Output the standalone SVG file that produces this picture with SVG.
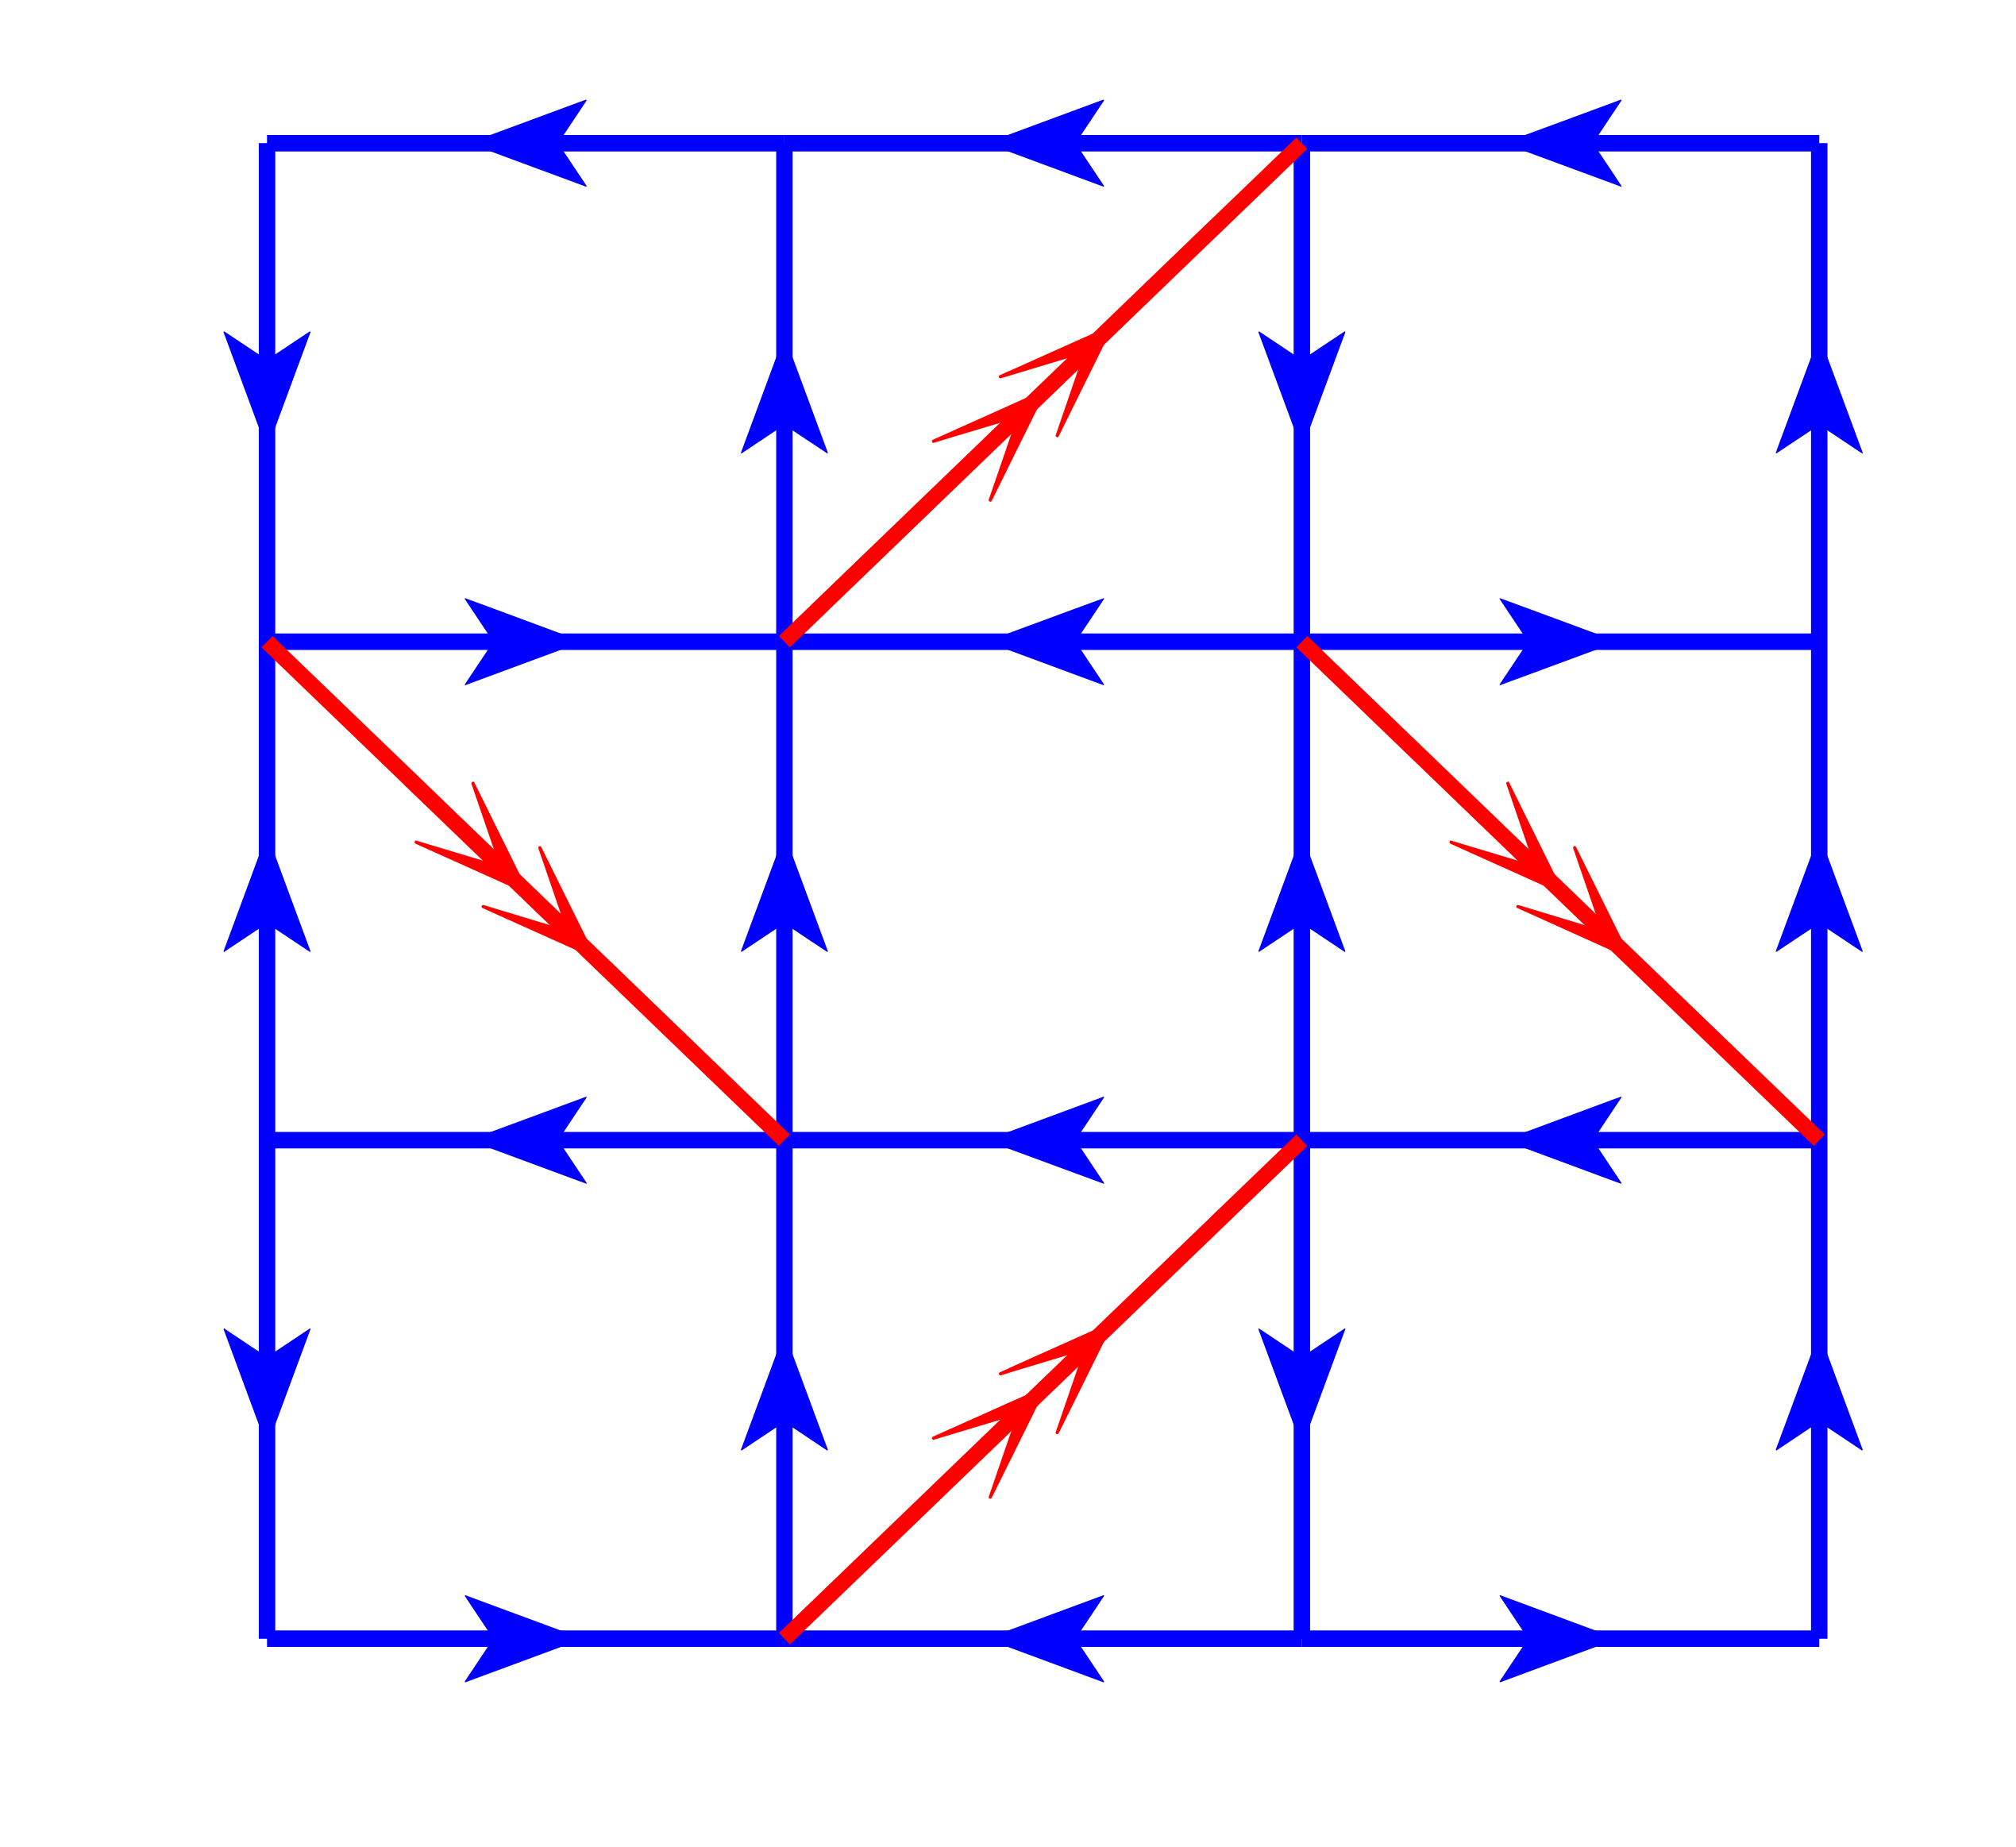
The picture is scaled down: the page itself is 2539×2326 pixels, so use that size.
<svg xmlns="http://www.w3.org/2000/svg" xmlns:xlink="http://www.w3.org/1999/xlink" width="2539" height="2326" viewBox="0 0 2539 2326">
<style>
.e{stroke:#0000ff;stroke-width:20.7;fill:none;stroke-linecap:butt}
.r{stroke:#ff0000;stroke-width:20;fill:none;stroke-linecap:butt}
</style>
<defs>
<path id="ba" d="M0,0 L-146,-54 L-110,0 L-146,54 Z" fill="#0000ff" stroke="#0000ff" stroke-width="1.5" stroke-linejoin="round"/>
<path id="ra" d="M0,0 L-143.5,-51.5 L-43,0 L-143.5,51.5 Z" fill="#ff0000" stroke="#ff0000" stroke-width="4" stroke-linejoin="round"/>
</defs>
<rect width="2539" height="2326" fill="#ffffff"/>
<g id="connectors">
<g id="lattice-edges">
<path class="e" d="M336.3,180.3H987.9"/><path class="e" d="M987.9,180.3H1639.6"/><path class="e" d="M1639.6,180.3H2291.2"/>
<path class="e" d="M336.3,808.1H987.9"/><path class="e" d="M987.9,808.1H1639.6"/><path class="e" d="M1639.6,808.1H2291.2"/>
<path class="e" d="M336.3,1435.9H987.9"/><path class="e" d="M987.9,1435.9H1639.6"/><path class="e" d="M1639.6,1435.9H2291.2"/>
<path class="e" d="M336.3,2063.7H987.9"/><path class="e" d="M987.9,2063.7H1639.6"/><path class="e" d="M1639.6,2063.7H2291.2"/>
<path class="e" d="M336.3,180.3V808.1"/><path class="e" d="M336.3,808.1V1435.9"/><path class="e" d="M336.3,1435.9V2063.7"/>
<path class="e" d="M987.9,180.3V808.1"/><path class="e" d="M987.9,808.1V1435.9"/><path class="e" d="M987.9,1435.9V2063.7"/>
<path class="e" d="M1639.6,180.3V808.1"/><path class="e" d="M1639.6,808.1V1435.9"/><path class="e" d="M1639.6,1435.9V2063.7"/>
<path class="e" d="M2291.2,180.3V808.1"/><path class="e" d="M2291.2,808.1V1435.9"/><path class="e" d="M2291.2,1435.9V2063.7"/>
</g>
<g id="lattice-arrows">
<use xlink:href="#ba" href="#ba" transform="translate(592.1,180.3) rotate(180)"/>
<use xlink:href="#ba" href="#ba" transform="translate(1243.75,180.3) rotate(180)"/>
<use xlink:href="#ba" href="#ba" transform="translate(1895.4,180.3) rotate(180)"/>
<use xlink:href="#ba" href="#ba" transform="translate(732.1,808.1)"/>
<use xlink:href="#ba" href="#ba" transform="translate(1243.75,808.1) rotate(180)"/>
<use xlink:href="#ba" href="#ba" transform="translate(2035.4,808.1)"/>
<use xlink:href="#ba" href="#ba" transform="translate(592.1,1435.9) rotate(180)"/>
<use xlink:href="#ba" href="#ba" transform="translate(1243.75,1435.9) rotate(180)"/>
<use xlink:href="#ba" href="#ba" transform="translate(1895.4,1435.9) rotate(180)"/>
<use xlink:href="#ba" href="#ba" transform="translate(732.1,2063.7)"/>
<use xlink:href="#ba" href="#ba" transform="translate(1243.75,2063.7) rotate(180)"/>
<use xlink:href="#ba" href="#ba" transform="translate(2035.4,2063.7)"/>
<use xlink:href="#ba" href="#ba" transform="translate(336.3,564.2) rotate(90)"/>
<use xlink:href="#ba" href="#ba" transform="translate(336.3,1052.0) rotate(-90)"/>
<use xlink:href="#ba" href="#ba" transform="translate(336.3,1819.8) rotate(90)"/>
<use xlink:href="#ba" href="#ba" transform="translate(987.9,424.2) rotate(-90)"/>
<use xlink:href="#ba" href="#ba" transform="translate(987.9,1052.0) rotate(-90)"/>
<use xlink:href="#ba" href="#ba" transform="translate(987.9,1679.8) rotate(-90)"/>
<use xlink:href="#ba" href="#ba" transform="translate(1639.6,564.2) rotate(90)"/>
<use xlink:href="#ba" href="#ba" transform="translate(1639.6,1052.0) rotate(-90)"/>
<use xlink:href="#ba" href="#ba" transform="translate(1639.6,1819.8) rotate(90)"/>
<use xlink:href="#ba" href="#ba" transform="translate(2291.2,424.2) rotate(-90)"/>
<use xlink:href="#ba" href="#ba" transform="translate(2291.2,1052.0) rotate(-90)"/>
<use xlink:href="#ba" href="#ba" transform="translate(2291.2,1679.8) rotate(-90)"/>
</g>
<g id="red-paths">
<g id="red1" transform="translate(987.9,808.1) rotate(-43.93)">
<path class="r" d="M0,0H904.8"/>
<use xlink:href="#ra" href="#ra" transform="translate(454,0)"/>
<use xlink:href="#ra" href="#ra" transform="translate(571,0)"/>
</g>
<g id="red2" transform="translate(336.3,808.1) rotate(43.93)">
<path class="r" d="M0,0H904.8"/>
<use xlink:href="#ra" href="#ra" transform="translate(454,0)"/>
<use xlink:href="#ra" href="#ra" transform="translate(571,0)"/>
</g>
<g id="red3" transform="translate(1639.6,808.1) rotate(43.93)">
<path class="r" d="M0,0H904.8"/>
<use xlink:href="#ra" href="#ra" transform="translate(454,0)"/>
<use xlink:href="#ra" href="#ra" transform="translate(571,0)"/>
</g>
<g id="red4" transform="translate(987.9,2063.7) rotate(-43.93)">
<path class="r" d="M0,0H904.8"/>
<use xlink:href="#ra" href="#ra" transform="translate(454,0)"/>
<use xlink:href="#ra" href="#ra" transform="translate(571,0)"/>
</g>
</g>
</g>
</svg>
